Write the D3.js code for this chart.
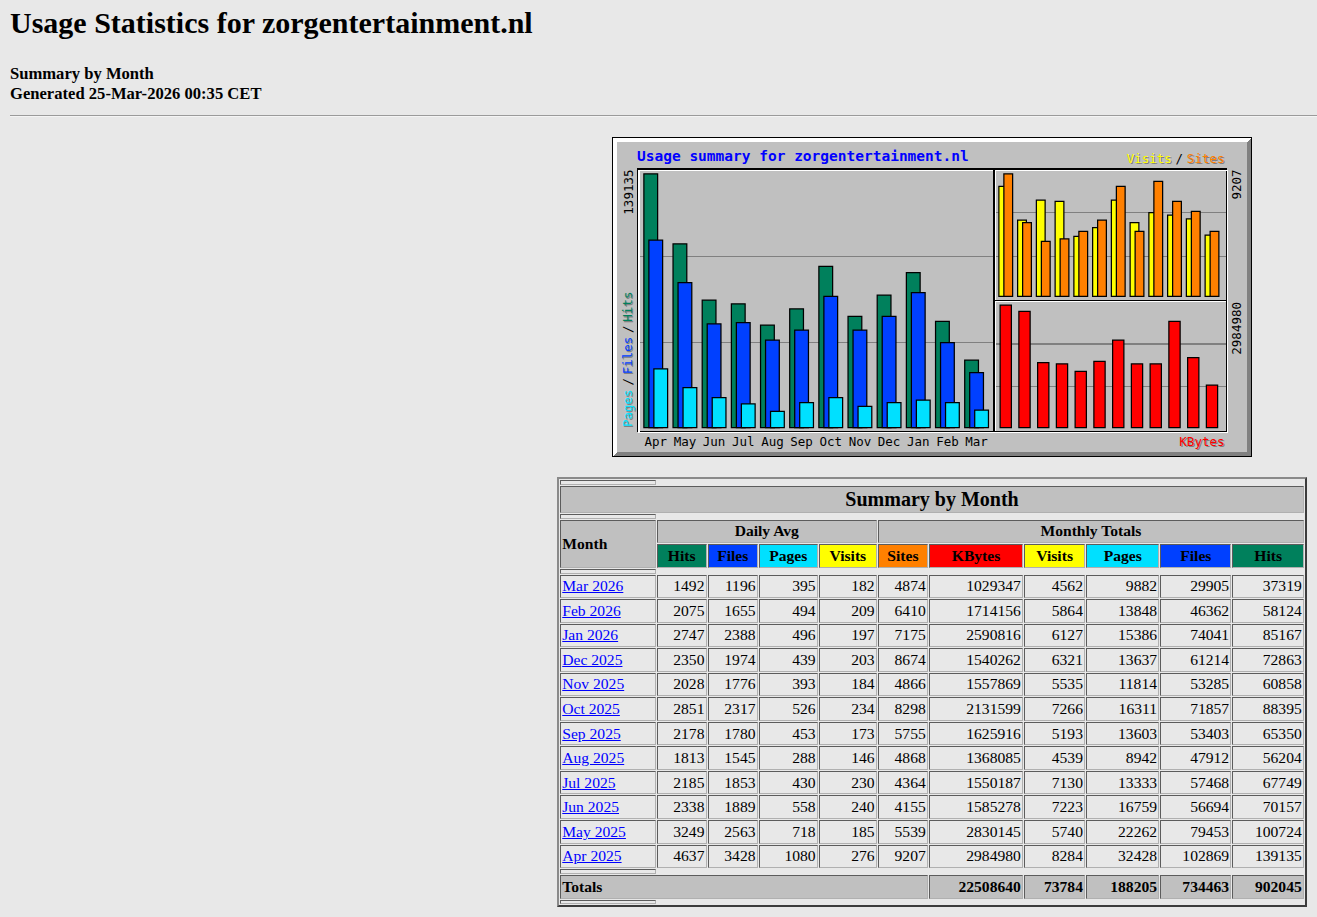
<!DOCTYPE html>
<html>
<head>
<meta charset="utf-8">
<title>Usage Statistics for zorgentertainment.nl - Summary by Month</title>
<script src="https://cdn.jsdelivr.net/npm/d3@7"></script>
<style>
html,body{margin:0;padding:0;overflow:hidden;background:#E8E8E8;}
body{width:1317px;height:917px;position:relative;font-family:"Liberation Serif","Times New Roman",serif;color:#000;}
h2{position:absolute;left:10px;top:6px;margin:0;font-size:30px;line-height:34px;font-weight:bold;white-space:nowrap;}
.sub{position:absolute;left:10px;top:64.2px;font-size:16.6px;line-height:20px;font-weight:bold;white-space:nowrap;}
hr{position:absolute;left:10px;top:114.7px;width:1900px;margin:0;height:0;border:0;border-top:1px solid #9a9a9a;border-bottom:1px solid #f4f4f4;}
#chart{position:absolute;left:612px;top:137px;display:block;}
table{position:absolute;left:557px;top:477px;width:750px;table-layout:fixed;border-collapse:separate;border-spacing:1px;
  border:2.5px solid;border-color:#8a8a8a #3c3c3c #3c3c3c #8a8a8a;box-sizing:border-box;}
td,th{box-sizing:border-box;border:1px solid;border-color:#5c5c5c #b0b0b0 #b0b0b0 #5c5c5c;padding:0 1.25px;font-size:15.6px;line-height:18px;white-space:nowrap;overflow:hidden;}
th{font-weight:bold;}
tr.sp th{height:5px;padding:0;line-height:0;font-size:0;}
tr.sp2 th{height:4.5px;padding:0;line-height:0;font-size:0;}
tr.hd1 th{height:26.5px;font-size:20px;line-height:22px;background:#C0C0C0;}
tr.hd2 th,tr.hd3 th{height:23.5px;}
tr.dr td{height:23.55px;}
tr.tot th{height:24px;background:#C0C0C0;}
td.num,th.num{text-align:right;}
a{color:#0000FF;text-decoration:underline;}
</style>
</head>
<body>
<h2>Usage Statistics for zorgentertainment.nl</h2>
<div class="sub">Summary by Month<br>Generated 25-Mar-2026 00:35 CET</div>
<hr>
<svg id="chart"></svg>
<script>
// ---------- data (chronological: Apr 2025 .. Mar 2026) ----------
const months      = ["Apr","May","Jun","Jul","Aug","Sep","Oct","Nov","Dec","Jan","Feb","Mar"];
const tableMonths = ["Apr 2025","May 2025","Jun 2025","Jul 2025","Aug 2025","Sep 2025","Oct 2025","Nov 2025","Dec 2025","Jan 2026","Feb 2026","Mar 2026"];
const dailyHits   = [4637,3249,2338,2185,1813,2178,2851,2028,2350,2747,2075,1492];
const dailyFiles  = [3428,2563,1889,1853,1545,1780,2317,1776,1974,2388,1655,1196];
const dailyPages  = [1080,718,558,430,288,453,526,393,439,496,494,395];
const dailyVisits = [276,185,240,230,146,173,234,184,203,197,209,182];
const sites       = [9207,5539,4155,4364,4868,5755,8298,4866,8674,7175,6410,4874];
const kbytes      = [2984980,2830145,1585278,1550187,1368085,1625916,2131599,1557869,1540262,2590816,1714156,1029347];
const visits      = [8284,5740,7223,7130,4539,5193,7266,5535,6321,6127,5864,4562];
const pages       = [32428,22262,16759,13333,8942,13603,16311,11814,13637,15386,13848,9882];
const files       = [102869,79453,56694,57468,47912,53403,71857,53285,61214,74041,46362,29905];
const hits        = [139135,100724,70157,67749,56204,65350,88395,60858,72863,85167,58124,37319];
const totals      = [22508640,73784,188205,734463,902045]; // KBytes, Visits, Pages, Files, Hits
const dailyHeaders   = ["Hits","Files","Pages","Visits"];
const monthlyHeaders = ["Sites","KBytes","Visits","Pages","Files","Hits"];

// ---------- styles ----------
const C = {hits:"#00805c",files:"#0040ff",pages:"#00e0ff",visits:"#ffff00",sites:"#ff8000",kbytes:"#ff0000",
           grey:"#C0C0C0",dkgrey:"#808080",black:"#000000",white:"#FFFFFF",blue:"#0000FF"};
const headColor = {Hits:C.hits,Files:C.files,Pages:C.pages,Visits:C.visits,Sites:C.sites,KBytes:C.kbytes};
const MONO = "'DejaVu Sans Mono', monospace";

// ---------- chart ----------
const W = 512, H = 256;
const svg = d3.select("#chart").attr("width", 640).attr("height", 320).attr("viewBox", `0 0 ${W} ${H}`)
  .attr("shape-rendering", "crispEdges");
svg.append("rect").attr("width", W).attr("height", H).attr("fill", C.grey);
const bev = 3;
svg.append("path").attr("d", `M1,1 H${W-1} L${W-1-bev},${1+bev} H${1+bev} V${H-1-bev} L1,${H-1} Z`).attr("fill", C.white);
svg.append("path").attr("d", `M${W-1},1 V${H-1} H1 L${1+bev},${H-1-bev} H${W-1-bev} V${1+bev} Z`).attr("fill", C.dkgrey);
svg.append("rect").attr("x", 0.5).attr("y", 0.5).attr("width", W-1).attr("height", H-1).attr("fill", "none").attr("stroke", C.black);

// panel frames
const plotL = 20, plotT = 25, plotR = 491, plotB = 235, secX = 305, secY = 130;
function grid(top, bottom, x1, x2) {
  [1, 2].forEach(k => {
    const y = Math.round(top + (bottom - top) * k / 3) - 0.5;
    svg.append("line").attr("x1", x1).attr("x2", x2).attr("y1", y).attr("y2", y).attr("stroke", C.dkgrey);
  });
}
grid(plotT + 1, plotB, plotL + 1, secX);
grid(plotT + 1, secY + 1, secX + 1, plotR);
grid(secY + 1, plotB, secX + 1, plotR);

// scales
const xMain = d3.scaleBand().domain(months).range([25, 25 + 280]);
const yMain = d3.scaleLinear().domain([0, d3.max(hits)]).range([232, 29]);
const xRight = d3.scaleBand().domain(months).range([309, 309 + 180]);
const ySV = d3.scaleLinear().domain([0, Math.max(d3.max(sites), d3.max(visits))]).range([127, 29]);
const yKB = d3.scaleLinear().domain([0, d3.max(kbytes)]).range([232, 134]);

function bars(values, xs, off, w, ys, base, color) {
  svg.append("g").selectAll("rect").data(values).join("rect")
    .attr("x", (d, i) => xs(months[i]) + off + 0.5)
    .attr("y", d => Math.round(ys(d)) + 0.5)
    .attr("width", w)
    .attr("height", d => base - Math.round(ys(d)))
    .attr("fill", color).attr("stroke", C.black).attr("stroke-width", 1)
    .attr("shape-rendering", "auto");
}
bars(hits, xMain, 0, 11, yMain, 232, C.hits);
bars(files, xMain, 4, 11, yMain, 232, C.files);
bars(pages, xMain, 8, 11, yMain, 232, C.pages);
bars(visits, xRight, 0, 7, ySV, 127, C.visits);
bars(sites, xRight, 4, 7, ySV, 127, C.sites);
bars(kbytes, xRight, 1, 9, yKB, 232, C.kbytes);

svg.append("rect").attr("x", plotL + 0.5).attr("y", plotT + 0.5).attr("width", plotR - plotL).attr("height", plotB - plotT)
  .attr("fill", "none").attr("stroke", C.black);
svg.append("rect").attr("x", plotL + 1.5).attr("y", plotT + 1.5).attr("width", plotR - plotL).attr("height", plotB - plotT)
  .attr("fill", "none").attr("stroke", C.white);
svg.append("line").attr("x1", secX + 0.5).attr("x2", secX + 0.5).attr("y1", plotT + 1).attr("y2", plotB).attr("stroke", C.black);
svg.append("line").attr("x1", secX + 1.5).attr("x2", secX + 1.5).attr("y1", plotT + 2).attr("y2", plotB).attr("stroke", C.white);
svg.append("line").attr("x1", secX + 1).attr("x2", plotR).attr("y1", secY + 0.5).attr("y2", secY + 0.5).attr("stroke", C.black);
svg.append("line").attr("x1", secX + 2).attr("x2", plotR).attr("y1", secY + 1.5).attr("y2", secY + 1.5).attr("stroke", C.white);

const txt = svg.append("g").attr("font-family", MONO).attr("shape-rendering", "auto");

// title
txt.append("text").attr("x", 20).attr("y", 19).attr("font-size", 11.6).attr("font-weight", "bold")
  .attr("fill", C.blue).text("Usage summary for zorgentertainment.nl");

// month labels
txt.append("g").selectAll("text").data(months).join("text")
  .attr("x", d => xMain(d) + 10).attr("y", 247).attr("text-anchor", "middle")
  .attr("font-size", 10).attr("fill", C.black).text(d => d);

// max value labels (rotated)
function upLabel(x, yTop, s) {
  txt.append("text").attr("transform", `translate(${x},${yTop}) rotate(-90)`).attr("text-anchor", "end")
    .attr("font-size", 10).attr("fill", C.black).text(s);
}
upLabel(17, 26, String(d3.max(hits)));
upLabel(503.5, 26, String(Math.max(d3.max(sites), d3.max(visits))));
upLabel(503.5, 132, String(d3.max(kbytes)));

// left vertical legend Pages / Files / Hits
const leftLegend = [["Pages", C.pages], ["/", C.black], ["Files", C.files], ["/", C.black], ["Hits", C.hits]];
let ly = 232;
leftLegend.forEach(([s, col]) => {
  const g = txt.append("g");
  if (col !== C.black) g.append("text").attr("transform", `translate(${16 + 1},${ly + 1}) rotate(-90)`)
    .attr("font-size", 10).attr("fill", C.dkgrey).text(s);
  const t = g.append("text").attr("transform", `translate(16,${ly}) rotate(-90)`)
    .attr("font-size", 10).attr("fill", col).text(s);
  ly -= t.node().getComputedTextLength() + 3;
});

// top right legend Visits / Sites
const rightLegend = [["Visits", C.visits], ["/", C.black], ["Sites", C.sites]];
let rx = 490;
rightLegend.slice().reverse().forEach(([s, col]) => {
  if (col !== C.black) txt.append("text").attr("x", rx + 1).attr("y", 21.5).attr("text-anchor", "end")
    .attr("font-size", 10).attr("fill", C.dkgrey).text(s);
  const t = txt.append("text").attr("x", rx).attr("y", 20.5).attr("text-anchor", "end")
    .attr("font-size", 10).attr("fill", col).text(s);
  rx -= t.node().getComputedTextLength() + 3;
});

// KBytes legend
txt.append("text").attr("x", 491).attr("y", 248).attr("text-anchor", "end").attr("font-size", 10).attr("fill", C.dkgrey).text("KBytes");
txt.append("text").attr("x", 490).attr("y", 247).attr("text-anchor", "end").attr("font-size", 10).attr("fill", C.kbytes).text("KBytes");

// ---------- table ----------
const colW = [95.5, 50, 50, 59, 58, 50, 94, 61, 73, 71, 71.5];
const tbl = d3.select("body").append("table");
const cg = tbl.append("colgroup");
colW.forEach(w => cg.append("col").style("width", w + "px"));
const tb = tbl.append("tbody");
const spacer = (cls) => tb.append("tr").attr("class", cls || "sp").append("th");

spacer();
tb.append("tr").attr("class", "hd1").append("th").attr("colspan", 11).style("text-align", "center").text("Summary by Month");
spacer();
const h2r = tb.append("tr").attr("class", "hd2");
h2r.append("th").attr("rowspan", 2).style("text-align", "left").style("background", C.grey).text("Month");
h2r.append("th").attr("colspan", 4).style("background", C.grey).text("Daily Avg");
h2r.append("th").attr("colspan", 6).style("background", C.grey).text("Monthly Totals");
const h3r = tb.append("tr").attr("class", "hd3");
dailyHeaders.concat(monthlyHeaders).forEach(h => h3r.append("th").style("background", headColor[h]).text(h));
spacer();

d3.range(months.length).reverse().forEach(i => {
  const tr = tb.append("tr").attr("class", "dr");
  tr.append("td").append("a").attr("href", "#").text(tableMonths[i]);
  [dailyHits[i], dailyFiles[i], dailyPages[i], dailyVisits[i], sites[i], kbytes[i], visits[i], pages[i], files[i], hits[i]]
    .forEach(v => tr.append("td").attr("class", "num").text(v));
});
spacer("sp2");
const tr = tb.append("tr").attr("class", "tot");
tr.append("th").attr("colspan", 6).style("text-align", "left").text("Totals");
totals.forEach(v => tr.append("th").attr("class", "num").text(v));
spacer("sp2");
</script>
</body>
</html>
